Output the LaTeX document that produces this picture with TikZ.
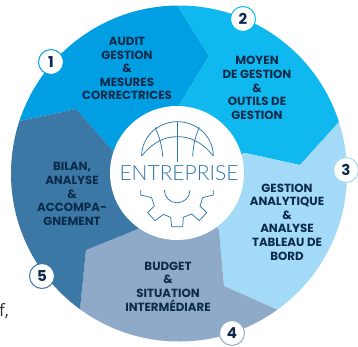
\documentclass[tikz,border=0pt]{standalone}
\usepackage{fontspec}
\setmainfont{Poppins}
\newfontfamily\logofont{Lato Light}
\newfontfamily\pagefont{Open Sans}
\definecolor{SegOne}{HTML}{009FE3}
\definecolor{SegTwo}{HTML}{0FB8EE}
\definecolor{SegThree}{HTML}{A3DAF8}
\definecolor{SegFour}{HTML}{8FA9C8}
\definecolor{SegFive}{HTML}{3B78A6}
\definecolor{LabelInk}{HTML}{0C2A4A}
\definecolor{LogoInk}{HTML}{2E78A8}

\begin{document}
\begin{tikzpicture}[x=1pt, y=-1pt]
	\tikzstyle{seglabel}=[align=center, text=LabelInk, font=\fontsize{11.8}{13.6}\selectfont\bfseries];
	\tikzstyle{badge}=[draw, shape=circle, fill=white, line width=1pt, minimum width=25pt, inner sep=0pt, text=LabelInk, font=\fontsize{15}{15}\selectfont\bfseries];
	\tikzstyle{logoline}=[draw=LogoInk, line width=0.75pt, line join=round];
	\useasboundingbox (0,0) rectangle (358,346);
	\begin{scope}
		\clip (179,173.5) circle (168);
		\fill[SegOne] (0,125) -- (19,121) -- (76,109) -- (114,152) -- (177,173) -- (178,107) -- (209,56) -- (174,0) -- (0,0) -- cycle;
		\fill[SegTwo] (174,0) -- (209,56) -- (178,107) -- (177,173) -- (245,153) -- (300,165) -- (339,122) -- (358,101) -- (358,0) -- cycle;
		\fill[SegThree] (358,101) -- (339,122) -- (300,165) -- (245,153) -- (177,173) -- (219,230) -- (224,286) -- (278,310) -- (358,346) -- cycle;
		\fill[SegFour] (358,346) -- (278,310) -- (224,286) -- (219,230) -- (177,173) -- (138,229) -- (86,250) -- (80,309) -- (76,346) -- cycle;
		\fill[SegFive] (76,346) -- (80,309) -- (86,250) -- (138,229) -- (177,173) -- (114,152) -- (76,109) -- (19,121) -- (0,125) -- (0,346) -- cycle;
	\end{scope}
	\fill[white] (177,173) circle (67);
	\node [seglabel] (audit) at (127,68.5) {AUDIT\\GESTION\\\&\\MESURES\\CORRECTRICES};
	\node [seglabel] (moyen) at (257,88) {MOYEN\\DE GESTION\\\&\\OUTILS DE\\GESTION};
	\node [seglabel] (analytique) at (287,222) {GESTION\\ANALYTIQUE\\\&\\ANALYSE\\TABLEAU DE\\BORD};
	\node [seglabel] (budget) at (168,286.5) {BUDGET\\\&\\SITUATION\\INTERMÉDIARE};
	\node [seglabel] (bilan) at (72,194) {BILAN,\\ANALYSE\\\&\\ACCOMPA-\\GNEMENT};
	\node [badge, draw=SegOne] (b1) at (51,62) {1};
	\node [badge, draw=SegTwo] (b2) at (243,19) {2};
	\node [badge, draw=SegThree] (b3) at (346,170) {3};
	\node [badge, draw=SegFour] (b4) at (232,333) {4};
	\node [badge, draw=SegFive] (b5) at (42,276) {5};
	\node [text=LogoInk, inner sep=0pt, font=\fontsize{21}{21}\logofont] (entreprise) at (179,173) {ENTREPRISE};
	\node [text=black!80, inner sep=0pt, font=\fontsize{17}{17}\pagefont] (pagetext) at (4,311) {f,};
	\begin{scope}[shift={(100,100)}, scale=1/3]
		\draw[logoline] (125,168) arc[start angle=180, end angle=360, x radius=107.5, y radius=103];
		\draw[logoline] (125,168) .. controls (160,125) and (195,110) .. (232,110) .. controls (270,110) and (305,125) .. (340,168);
		\draw[logoline] (232,65) -- (232,185);
		\draw[logoline] (165,82) .. controls (178,110) and (187,140) .. (188,170);
		\draw[logoline] (298,82) .. controls (285,110) and (279,140) .. (278,170);
		\draw[logoline] (122,270) -- (122,285) -- (155,293) -- (163,318) -- (143,338) -- (165,362) -- (190,343) -- (212,352) -- (215,380) -- (248,380) -- (250,352) -- (275,342) -- (298,362) -- (320,338) -- (300,318) -- (308,293) -- (340,285) -- (340,270);
		\draw[logoline] (193,270) arc[start angle=180, end angle=0, radius=38.5];
	\end{scope}
\end{tikzpicture}
\end{document}
